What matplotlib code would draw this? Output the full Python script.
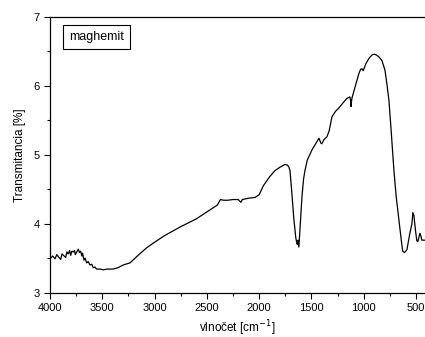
import matplotlib
matplotlib.use('Agg')
import matplotlib.pyplot as plt
from matplotlib.ticker import MultipleLocator

plt.rcParams['font.family'] = ['Liberation Sans', 'DejaVu Sans']

# wavenumber [cm-1] and transmittance [%]
wavenumber = [4000, 3975, 3952, 3935, 3920, 3898, 3885, 3872, 3850, 3838,
              3825, 3812, 3802, 3790, 3777, 3765, 3758, 3740, 3729, 3718,
              3707, 3695, 3688, 3675, 3665, 3649, 3635, 3618, 3600, 3586,
              3570, 3554, 3520, 3493, 3450, 3398, 3350, 3300, 3235, 3150,
              3075, 3000, 2900, 2757, 2600, 2451, 2400, 2370, 2340, 2300,
              2250, 2200, 2175, 2160, 2100, 2040, 2000, 1960, 1900, 1849,
              1800, 1753, 1730, 1715, 1705, 1690, 1670, 1650, 1640, 1635,
              1628, 1620, 1610, 1590, 1575, 1562, 1540, 1495, 1460, 1428,
              1410, 1400, 1380, 1352, 1330, 1304, 1270, 1237, 1200, 1160,
              1132, 1125, 1122, 1113, 1080, 1046, 1030, 1017, 1005, 980,
              950, 920, 902, 880, 854, 826, 797, 780, 759, 740,
              711, 690, 663, 640, 627, 610, 587, 560, 539, 530,
              520, 505, 492, 482, 472, 463, 453, 444, 430, 414]
transmittance = [3.49, 3.53, 3.49, 3.55, 3.52, 3.48, 3.56, 3.54, 3.51, 3.59,
                 3.56, 3.61, 3.54, 3.60, 3.59, 3.61, 3.55, 3.60, 3.63, 3.58,
                 3.60, 3.53, 3.57, 3.47, 3.50, 3.43, 3.45, 3.40, 3.41, 3.36,
                 3.37, 3.34, 3.34, 3.33, 3.34, 3.34, 3.36, 3.40, 3.43, 3.55,
                 3.65, 3.73, 3.83, 3.95, 4.07, 4.22, 4.27, 4.35, 4.34, 4.34,
                 4.35, 4.35, 4.31, 4.35, 4.37, 4.38, 4.42, 4.55, 4.68, 4.77,
                 4.82, 4.86, 4.85, 4.82, 4.77, 4.50, 4.10, 3.80, 3.72, 3.70,
                 3.76, 3.66, 3.90, 4.40, 4.65, 4.77, 4.92, 5.07, 5.16, 5.24,
                 5.17, 5.16, 5.22, 5.26, 5.35, 5.55, 5.63, 5.68, 5.75, 5.82,
                 5.84, 5.78, 5.70, 5.82, 6.00, 6.18, 6.24, 6.25, 6.22, 6.32,
                 6.40, 6.45, 6.46, 6.45, 6.42, 6.37, 6.23, 6.05, 5.79, 5.40,
                 4.77, 4.40, 4.05, 3.75, 3.60, 3.58, 3.62, 3.85, 4.00, 4.16,
                 4.12, 3.90, 3.75, 3.74, 3.80, 3.86, 3.82, 3.76, 3.76, 3.76]

fig = plt.figure(figsize=(4.25, 3.37), dpi=100)
ax = fig.add_axes([0.1176, 0.132, 0.8824, 0.8175])

ax.plot(wavenumber, transmittance, color='black', linewidth=0.9)

ax.set_xlim(4000, 414)
ax.set_ylim(3, 7)
ax.xaxis.set_major_locator(MultipleLocator(500))
ax.xaxis.set_minor_locator(MultipleLocator(250))
ax.yaxis.set_major_locator(MultipleLocator(1))
ax.yaxis.set_minor_locator(MultipleLocator(0.5))
ax.tick_params(which='major', direction='out', length=4, width=0.8, labelsize=8)
ax.tick_params(which='minor', direction='out', length=2.5, width=0.8)
ax.spines['right'].set_visible(False)
for s in ['left', 'bottom', 'top']:
    ax.spines[s].set_linewidth(0.9)

ax.set_xlabel('vlnočet [cm$^{-1}$]', fontsize=8.5, labelpad=4)
ax.set_ylabel('Transmitancia [%]', fontsize=8.5, labelpad=5)

ax.text(0.051, 0.927, 'maghemit', transform=ax.transAxes, fontsize=9,
        ha='left', va='center',
        bbox=dict(boxstyle='square,pad=0.5', fc='white', ec='black', lw=0.8))

fig.savefig('out.png', dpi=100)
